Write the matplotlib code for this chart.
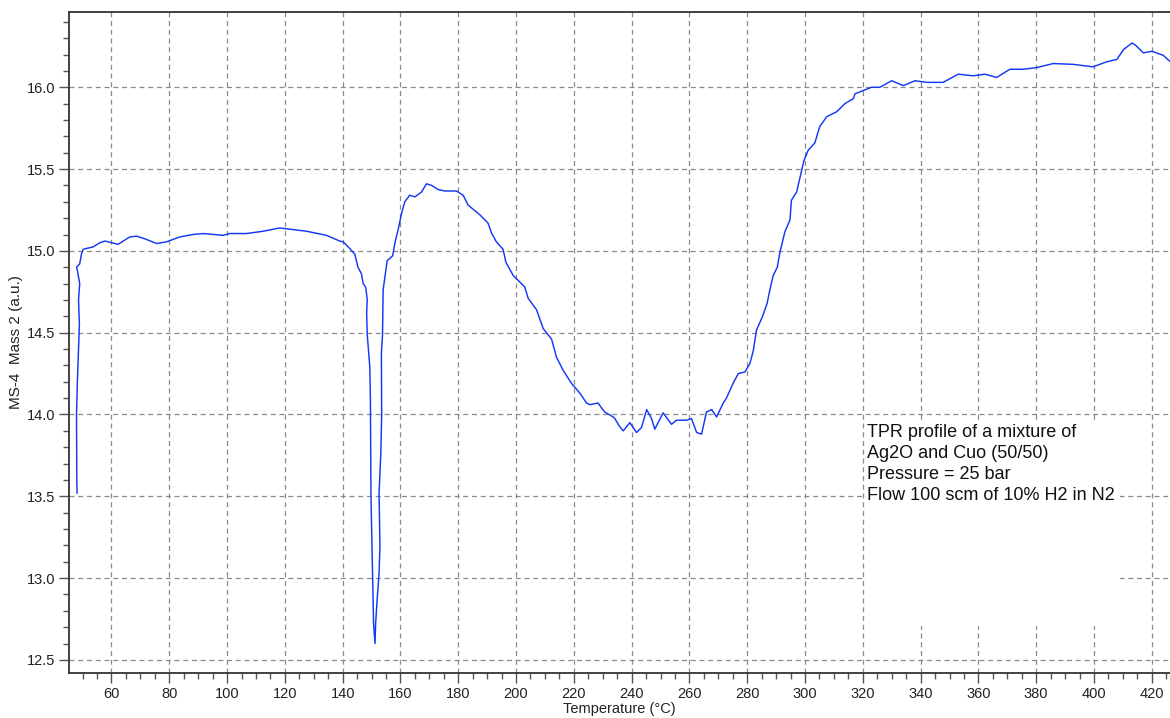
import matplotlib
matplotlib.use("Agg")
import matplotlib.pyplot as plt
from matplotlib.patches import Rectangle
from matplotlib.ticker import MultipleLocator, FormatStrFormatter

plt.rcParams['font.family'] = ['Liberation Sans', 'DejaVu Sans']

# Temperature (°C)
temperature = [
    48.1, 48.0, 47.9, 48.2, 48.5, 48.9, 48.6, 49.0, 48.2, 47.9, 49.0, 49.6, 50.2,
    53.6, 56.0, 57.7, 60.0, 62.3, 66.3, 68.7, 72.1, 75.6, 79.0, 83.6, 88.2, 91.7,
    98.6, 100.9, 106.7, 112.5, 118.2, 122.9, 127.5, 134.4, 139.0, 140.2, 142.5,
    144.2, 145.3, 146.5, 147.1, 148.0, 148.5, 148.3, 148.5, 149.4, 149.6, 149.8,
    150.3, 150.7, 151.2, 151.4, 151.9, 152.6, 152.9, 152.6, 153.2, 153.5, 153.4,
    153.8, 154.0, 155.0, 155.4, 157.3, 158.1, 159.2, 160.4, 161.5, 163.2, 165.0,
    167.3, 169.0, 170.8, 173.0, 175.4, 179.4, 181.7, 183.4, 187.5, 190.3, 191.5,
    193.2, 195.5, 196.5, 199.0, 203.0, 204.2, 207.1, 209.4, 212.3, 214.0, 216.3,
    219.2, 222.1, 224.4, 225.5, 228.4, 229.6, 230.7, 233.6, 234.2, 235.7, 237.1,
    239.4, 241.7, 243.4, 245.2, 246.9, 248.0, 250.9, 253.8, 255.5, 259.0, 260.7,
    262.5, 264.2, 265.9, 267.7, 269.4, 271.7, 272.8, 275.1, 276.9, 279.2, 280.9,
    282.1, 283.2, 285.3, 286.9, 287.8, 289.0, 290.4, 291.3, 293.0, 294.8, 295.3,
    297.1, 298.8, 299.6, 301.1, 303.4, 305.1, 307.5, 310.9, 312.1, 313.8, 316.7,
    317.3, 320.1, 323.0, 325.9, 330.0, 334.0, 338.1, 342.1, 347.8, 353.0, 358.2,
    362.2, 366.3, 370.9, 375.5, 380.1, 385.9, 392.8, 399.7, 404.3, 407.9, 410.2,
    413.1, 414.2, 417.1, 420.0, 424.0, 426.1,
]

# MS-4 Mass 2 signal (a.u.)
signal = [
    13.52, 13.60, 14.00, 14.20, 14.35, 14.55, 14.70, 14.80, 14.88, 14.90, 14.92, 14.98, 15.01,
    15.024, 15.05, 15.06, 15.05, 15.04, 15.085, 15.09, 15.07, 15.045, 15.055, 15.085, 15.10, 15.106,
    15.095, 15.106, 15.106, 15.12, 15.14, 15.13, 15.12, 15.095, 15.06, 15.055, 15.014,
    14.98, 14.90, 14.86, 14.80, 14.776, 14.70, 14.62, 14.49, 14.29, 14.09, 13.50,
    13.07, 12.72, 12.60, 12.72, 12.86, 13.03, 13.19, 13.52, 13.76, 14.00, 14.37,
    14.49, 14.76, 14.89, 14.94, 14.97, 15.05, 15.13, 15.23, 15.30, 15.34, 15.33,
    15.36, 15.41, 15.40, 15.375, 15.366, 15.366, 15.34, 15.28, 15.22, 15.17, 15.11,
    15.055, 15.01, 14.93, 14.85, 14.78, 14.71, 14.64, 14.525, 14.46, 14.35, 14.27,
    14.19, 14.13, 14.07, 14.06, 14.07, 14.04, 14.015, 13.985, 13.975, 13.93, 13.90,
    13.95, 13.89, 13.92, 14.03, 13.975, 13.91, 14.01, 13.94, 13.965, 13.965, 13.975,
    13.89, 13.88, 14.015, 14.03, 13.985, 14.07, 14.10, 14.19, 14.25, 14.26, 14.31,
    14.39, 14.515, 14.60, 14.68, 14.76, 14.85, 14.90, 14.99, 15.115, 15.19, 15.31,
    15.36, 15.49, 15.55, 15.615, 15.66, 15.76, 15.82, 15.85, 15.87, 15.90, 15.93,
    15.96, 15.98, 16.00, 16.00, 16.04, 16.01, 16.04, 16.03, 16.03, 16.08, 16.07,
    16.08, 16.06, 16.11, 16.11, 16.12, 16.145, 16.14, 16.125, 16.155, 16.17, 16.23,
    16.27, 16.26, 16.21, 16.22, 16.195, 16.16,
]

annotation_lines = [
    "TPR profile of a mixture of",
    "Ag2O and Cuo (50/50)",
    "Pressure = 25 bar",
    "Flow 100 scm of 10% H2 in N2",
]

W, H = 1170, 718
fig = plt.figure(figsize=(W / 100, H / 100), dpi=100)
ax = fig.add_axes([69 / W, 1 - 673 / H, (W - 69) / W, (673 - 12) / H])

ax.plot(temperature, signal, color='#1438f5', lw=1.05, zorder=4)

ax.set_xlim(45.3, 426.3)
ax.set_ylim(12.42, 16.46)

ax.xaxis.set_major_locator(MultipleLocator(20))
ax.xaxis.set_minor_locator(MultipleLocator(5))
ax.yaxis.set_major_locator(MultipleLocator(0.5))
ax.yaxis.set_minor_locator(MultipleLocator(0.1))
ax.yaxis.set_major_formatter(FormatStrFormatter('%.1f'))

ax.grid(True, which='major', color='#8a8a8a', linestyle=(0, (4, 3)), linewidth=0.9, zorder=1)

for s in ['top', 'left', 'bottom']:
    ax.spines[s].set_color('#333333')
    ax.spines[s].set_linewidth(1.3)
ax.spines['right'].set_visible(False)

ax.tick_params(axis='both', which='major', length=7, width=1, color='#555555',
               labelsize=10.5, labelcolor='#222222', pad=3)
ax.tick_params(axis='both', which='minor', length=4, width=1, color='#555555')

ax.set_xlabel('Temperature (°C)', fontsize=10.5, color='#222222', labelpad=1)
ax.set_ylabel('MS-4  Mass 2 (a.u.)', fontsize=11, color='#222222')
ax.yaxis.set_label_coords(-0.042, 0.5)

# white annotation box covering grid
ax.add_patch(Rectangle((321.1, 12.71), 409.0 - 321.1, 13.965 - 12.71,
                       facecolor='white', edgecolor='none', zorder=2))
ax.text(321.6, 13.94, "\n".join(annotation_lines), fontsize=13, color='#111111',
        va='top', ha='left', linespacing=1.3, zorder=3)

fig.savefig('out.png', dpi=100)
